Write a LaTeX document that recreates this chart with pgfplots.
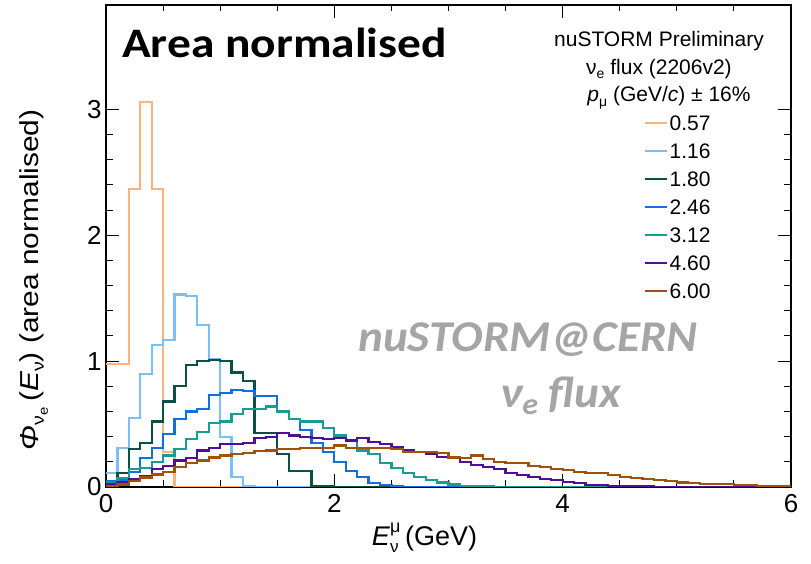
\documentclass[border=0pt]{standalone}
\usepackage{fontspec}
\setmainfont{Liberation Sans}
\newfontfamily\calibri{Carlito}
\usepackage{pgfplots}
\usepackage{pgfplotstable}
\pgfplotsset{compat=1.18}

\definecolor{cO}{RGB}{255,178,122}
\definecolor{cLB}{RGB}{122,190,250}
\definecolor{cDG}{RGB}{10,80,70}
\definecolor{cB}{RGB}{18,112,222}
\definecolor{cT}{RGB}{25,155,150}
\definecolor{cP}{RGB}{78,15,150}
\definecolor{cBr}{RGB}{160,82,10}
\definecolor{cGrey}{RGB}{165,165,165}

\newcommand{\fs}[1]{\fontsize{#1}{#1}\selectfont}
\newcommand{\lo}[3]{\raisebox{#2}{\fs{#1}#3}}

\pgfplotstableread{
x o lb dg b t p br
0.0 0.98 0.11 0.04 0.05 0.03 0.02 0.01
0.1 0.98 0.31 0.11 0.06 0.07 0.04 0.02
0.2 2.37 0.55 0.30 0.12 0.14 0.06 0.045
0.3 3.06 0.90 0.35 0.23 0.15 0.09 0.075
0.4 2.37 1.13 0.52 0.31 0.20 0.14 0.10
0.5 0.28 1.17 0.68 0.42 0.25 0.17 0.12
0.6 0 1.53 0.80 0.54 0.30 0.21 0.16
0.7 0 1.52 0.97 0.60 0.38 0.23 0.19
0.8 0 1.29 1.00 0.62 0.44 0.29 0.21
0.9 0 1.02 1.01 0.73 0.51 0.31 0.235
1.0 0 0.40 1.00 0.75 0.52 0.34 0.25
1.1 0 0.08 0.91 0.77 0.58 0.34 0.26
1.2 0 0.01 0.84 0.76 0.62 0.35 0.27
1.3 0 0.003 0.43 0.72 0.62 0.39 0.285
1.4 0 0 0.43 0.72 0.64 0.40 0.29
1.5 0 0 0.26 0.60 0.60 0.43 0.30
1.6 0 0 0.13 0.54 0.54 0.41 0.30
1.7 0 0 0.13 0.45 0.52 0.40 0.31
1.8 0 0 0.01 0.35 0.52 0.39 0.31
1.9 0 0 0.005 0.28 0.47 0.38 0.31
2.0 0 0 0 0.20 0.41 0.39 0.33
2.1 0 0 0 0.13 0.37 0.37 0.31
2.2 0 0 0 0.08 0.29 0.39 0.31
2.3 0 0 0 0.03 0.26 0.36 0.31
2.4 0 0 0 0.013 0.19 0.34 0.31
2.5 0 0 0 0.006 0.15 0.32 0.30
2.6 0 0 0 0.003 0.11 0.29 0.28
2.7 0 0 0 0 0.08 0.28 0.28
2.8 0 0 0 0 0.055 0.26 0.28
2.9 0 0 0 0 0.035 0.24 0.27
3.0 0 0 0 0 0.02 0.23 0.235
3.1 0 0 0 0 0.01 0.20 0.23
3.2 0 0 0 0 0.006 0.175 0.25
3.3 0 0 0 0 0.004 0.16 0.22
3.4 0 0 0 0 0.002 0.14 0.20
3.5 0 0 0 0 0.001 0.11 0.19
3.6 0 0 0 0 0 0.095 0.19
3.7 0 0 0 0 0 0.08 0.17
3.8 0 0 0 0 0 0.065 0.16
3.9 0 0 0 0 0 0.055 0.14
4.0 0 0 0 0 0 0.042 0.135
4.1 0 0 0 0 0 0.03 0.12
4.2 0 0 0 0 0 0.016 0.11
4.3 0 0 0 0 0 0.013 0.11
4.4 0 0 0 0 0 0.01 0.095
4.5 0 0 0 0 0 0.007 0.08
4.6 0 0 0 0 0 0.005 0.07
4.7 0 0 0 0 0 0.004 0.063
4.8 0 0 0 0 0 0.003 0.055
4.9 0 0 0 0 0 0.002 0.048
5.0 0 0 0 0 0 0.001 0.035
5.1 0 0 0 0 0 0 0.034
5.2 0 0 0 0 0 0 0.024
5.3 0 0 0 0 0 0 0.024
5.4 0 0 0 0 0 0 0.022
5.5 0 0 0 0 0 0 0.016
5.6 0 0 0 0 0 0 0.016
5.7 0 0 0 0 0 0 0.010
5.8 0 0 0 0 0 0 0.010
5.9 0 0 0 0 0 0 0.007
6.0 0 0 0 0 0 0 0.007
}\fluxdata

\begin{document}
\begin{tikzpicture}
\useasboundingbox (0bp,0bp) rectangle (811bp,564bp);
\begin{axis}[
  at={(106bp,77bp)}, anchor=south west,
  width=685bp, height=482bp, scale only axis,
  xmin=0, xmax=6, ymin=0, ymax=3.83,
  xtick={0,2,4,6}, ytick={0,1,2,3},
  minor x tick num=3, minor y tick num=4,
  tick align=inside, tick pos=both,
  major tick length=13bp, minor tick length=6.5bp,
  every tick/.style={black, line width=1bp},
  axis line style={line width=1.3bp},
  /pgf/number format/assume math mode=true,
  ticklabel style={font=\fs{26bp}},
  xticklabel style={yshift=-4bp},
  yticklabel style={xshift=-1bp},
  xlabel={\textit{E}\lo{17bp}{-7bp}{\rlap{ν}}\lo{18bp}{13bp}{μ}\,(GeV)},
  xlabel style={font=\fs{27bp}, at={(axis description cs:0.465,-0.105)}, anchor=center},
  ylabel={\scalebox{1.15}[1]{\textit{Φ}\lo{17bp}{-5bp}{ν\lo{13bp}{-4bp}{e}}\,(\textit{E}\lo{17bp}{-5bp}{ν})\ (area normalised)}},
  ylabel style={font=\fs{26bp}, at={(axis description cs:-0.105,0.43)}, anchor=center},
  legend style={at={(axis description cs:0.785,0.775)}, anchor=north west, draw=none, fill=none,
    font=\fs{21bp}, inner sep=0pt, row sep=10bp,
    nodes={inner sep=1.5bp, text height=15bp, text depth=0bp}},
  legend cell align=left,
  legend image code/.code={\draw[#1, line width=2.2bp] (0bp,0bp) -- (22bp,0bp);},
  every axis plot/.append style={line width=2.2bp, const plot mark left, line join=miter},
]
\addplot[cO]  table[x=x,y=o]  {\fluxdata};
\addplot[cLB] table[x=x,y=lb] {\fluxdata};
\addplot[cDG] table[x=x,y=dg] {\fluxdata};
\addplot[cB]  table[x=x,y=b]  {\fluxdata};
\addplot[cT]  table[x=x,y=t]  {\fluxdata};
\addplot[cP]  table[x=x,y=p]  {\fluxdata};
\addplot[cBr] table[x=x,y=br] {\fluxdata};
\legend{0.57,1.16,1.80,2.46,3.12,4.60,6.00}
\end{axis}
\node[anchor=base west, inner sep=0pt, font=\calibri\bfseries\fs{42bp}] at (122bp,506bp) {\scalebox{1.13}[1]{Area normalised}};
\node[anchor=base, inner sep=0pt, font=\fs{21bp}] at (659bp,517bp) {nuSTORM Preliminary};
\node[anchor=base, inner sep=0pt, font=\fs{21bp}] at (659bp,489bp) {ν\lo{14bp}{-4bp}{e} flux (2206v2)};
\node[anchor=base, inner sep=0pt, font=\fs{21bp}] at (669bp,462bp) {\textit{p}\lo{14bp}{-5bp}{μ}\ (GeV/\textit{c}) ± 16\%};
\node[anchor=base west, inner sep=0pt, text=cGrey, font=\calibri\bfseries\itshape\fs{44bp}] at (358bp,212bp) {\scalebox{1.07}[1]{nuSTORM@CERN}};
\node[anchor=base west, inner sep=0pt, text=cGrey, font=\calibri\bfseries\itshape\fs{44bp}] at (500bp,156bp) {\scalebox{1.07}[1]{ν\lo{30bp}{-7bp}{e} flux}};
\end{tikzpicture}
\end{document}
